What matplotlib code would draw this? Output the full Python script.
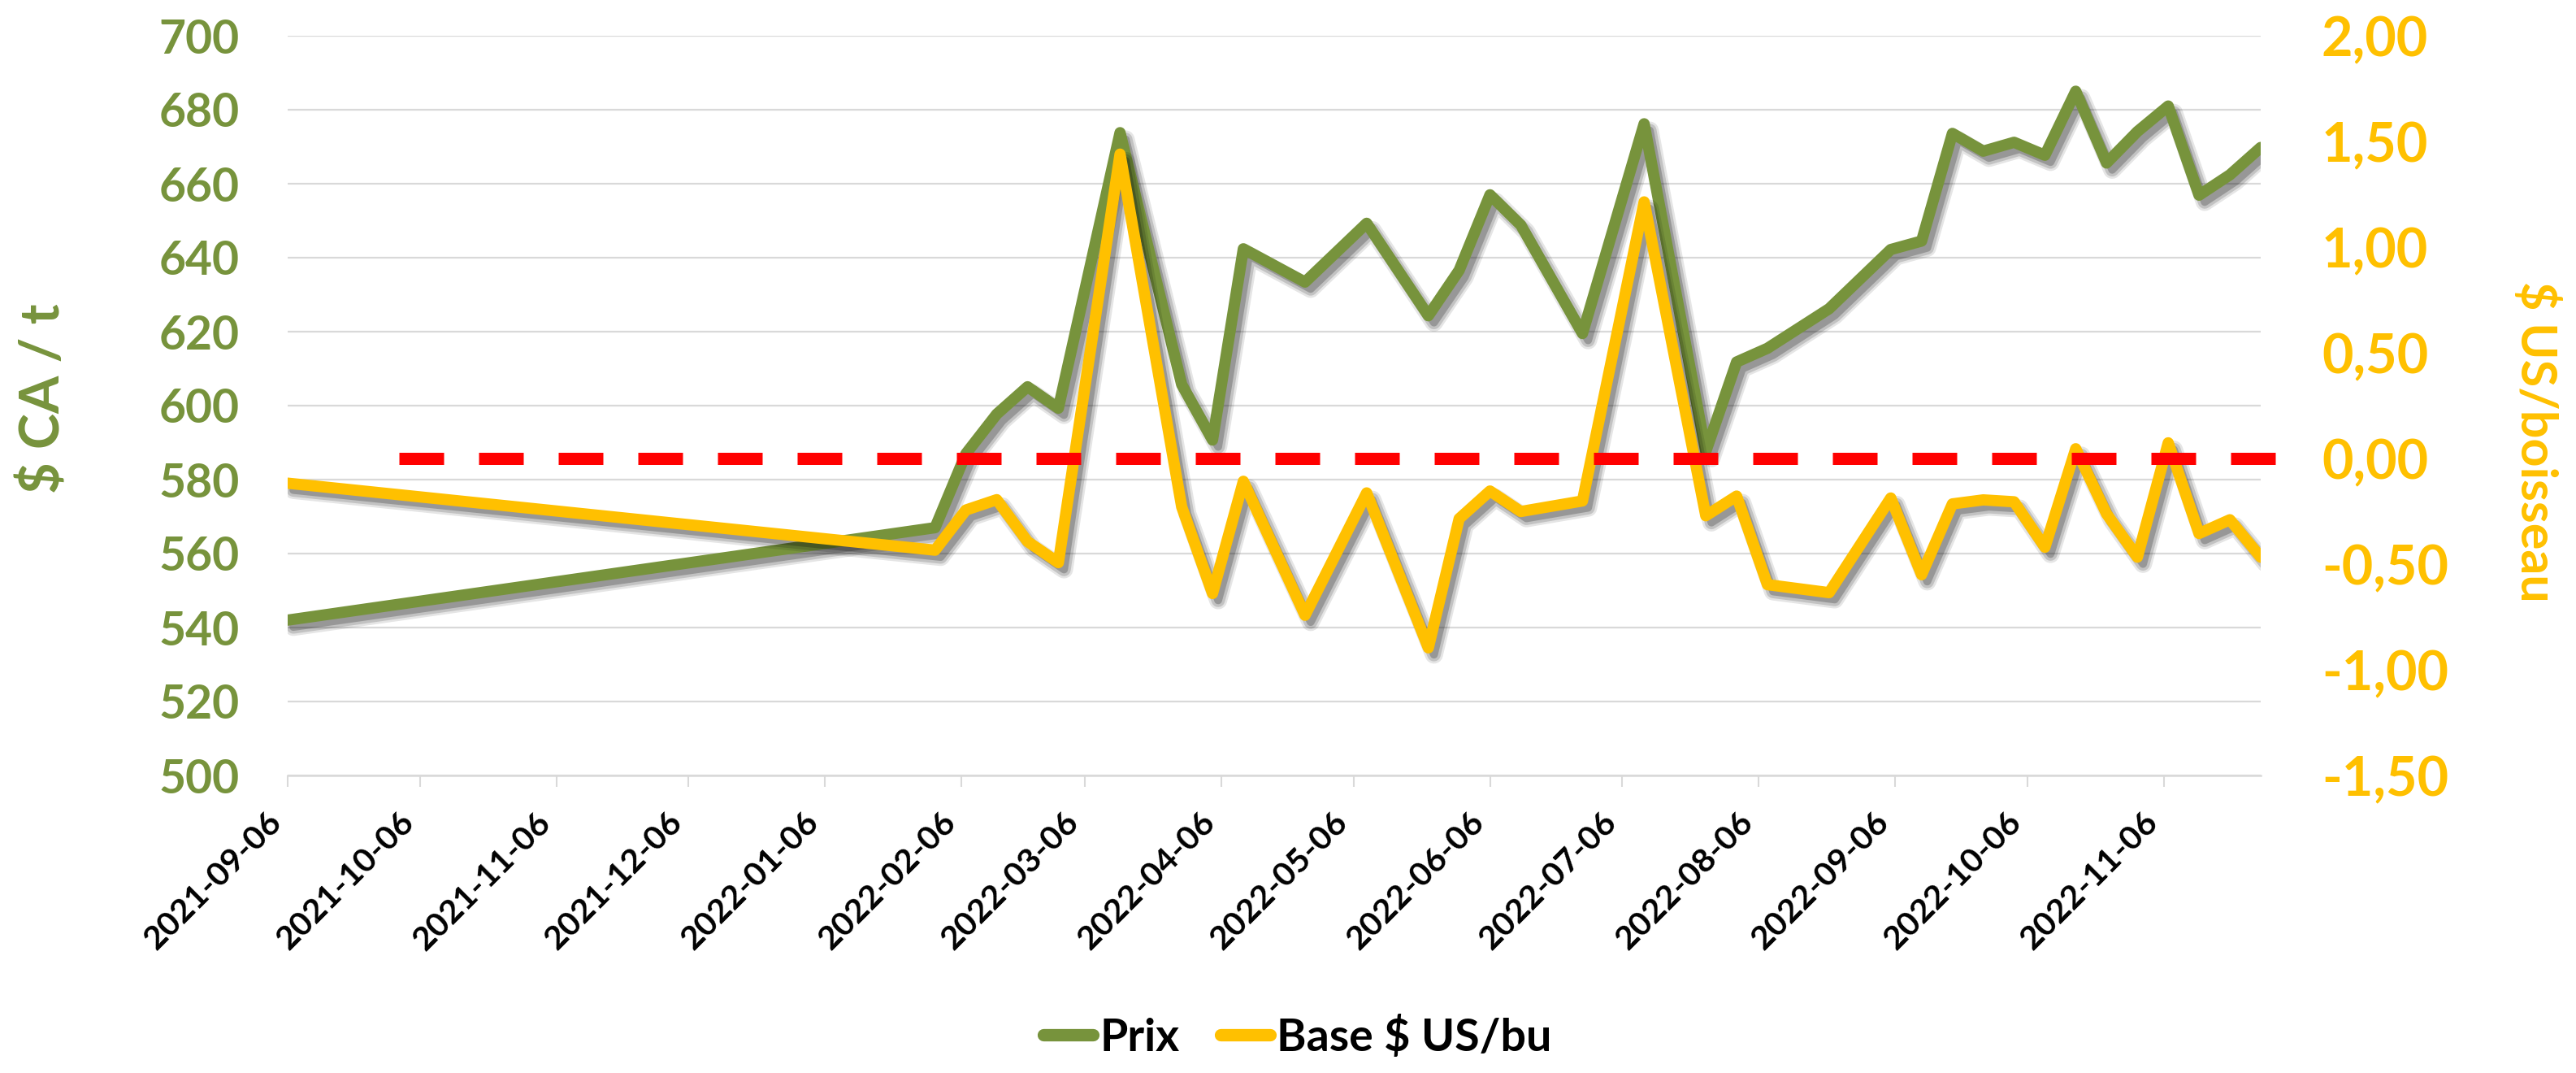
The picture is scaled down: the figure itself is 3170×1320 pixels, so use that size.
import matplotlib
matplotlib.use("Agg")
import matplotlib.pyplot as plt
import matplotlib.dates as mdates
from matplotlib import patheffects as pe
from matplotlib.ticker import FixedLocator, FuncFormatter
from matplotlib.lines import Line2D
import pandas as pd

# ---------------- data ----------------
dates = [
    "2021-09-06", "2022-01-31", "2022-02-07", "2022-02-14", "2022-02-21", "2022-02-28",
    "2022-03-14", "2022-03-28", "2022-04-04", "2022-04-11", "2022-04-25", "2022-05-09",
    "2022-05-23", "2022-05-30", "2022-06-06", "2022-06-13", "2022-06-27", "2022-07-11",
    "2022-07-25", "2022-08-01", "2022-08-08", "2022-08-22", "2022-09-05", "2022-09-12",
    "2022-09-19", "2022-09-26", "2022-10-03", "2022-10-10", "2022-10-17", "2022-10-24",
    "2022-10-31", "2022-11-07", "2022-11-14", "2022-11-21", "2022-11-28",
]
prix = [
    542.0, 567.0, 587.0, 597.7, 605.1, 599.3,
    673.8, 605.7, 590.7, 642.4, 633.4, 649.3,
    624.3, 636.6, 657.0, 648.8, 619.5, 676.2,
    587.6, 611.8, 615.5, 626.2, 642.2, 644.5,
    673.6, 668.8, 671.2, 667.7, 685.0, 665.6,
    674.1, 681.0, 656.9, 662.4, 669.8,
]
base = [
    -0.117, -0.434, -0.244, -0.195, -0.393, -0.493,
    1.440, -0.229, -0.639, -0.108, -0.742, -0.163,
    -0.896, -0.285, -0.154, -0.251, -0.201, 1.214,
    -0.271, -0.178, -0.597, -0.635, -0.187, -0.550,
    -0.215, -0.196, -0.205, -0.420, 0.046, -0.262,
    -0.467, 0.074, -0.355, -0.290, -0.467,
]
left_ticks = [500, 520, 540, 560, 580, 600, 620, 640, 660, 680, 700]
right_ticks = [-1.5, -1.0, -0.5, 0.0, 0.5, 1.0, 1.5, 2.0]
zero_ref = 0.0
series_names = ["Prix", "Base $ US/bu"]
left_title = "$ CA / t"
right_title = "$ US/boisseau"

# ---------------- style ----------------
GREEN = "#77933C"
YELLOW = "#FFC000"
RED = "#FF0000"
GRID = "#D9D9D9"

plt.rcParams["font.family"] = ["Lato", "DejaVu Sans"]
plt.rcParams["font.weight"] = "bold"

W, H = 3170, 1320
fig = plt.figure(figsize=(W / 100, H / 100), dpi=100)
L, R, T, B = 354, 2782, 44, 954
ax = fig.add_axes([L / W, 1 - B / H, (R - L) / W, (B - T) / H])
ax2 = ax.twinx()

d = pd.to_datetime(dates)


def shadow(lw):
    return [
        pe.SimpleLineShadow(offset=(5, -6), shadow_color="#000000", alpha=0.10, linewidth=lw + 6),
        pe.SimpleLineShadow(offset=(5, -6), shadow_color="#000000", alpha=0.15, linewidth=lw + 2),
        pe.SimpleLineShadow(offset=(5, -6), shadow_color="#000000", alpha=0.22, linewidth=lw - 3),
        pe.Normal(),
    ]


LW = 10
ax.plot(d, prix, color=GREEN, lw=LW, solid_joinstyle="round", solid_capstyle="round",
        path_effects=shadow(LW), zorder=3)
ax2.plot(d, base, color=YELLOW, lw=LW, solid_joinstyle="round", solid_capstyle="round",
         path_effects=shadow(LW), zorder=3)

# red dashed reference line at 0 on the secondary axis
ax2.axhline(zero_ref, xmin=(491 - L) / (R - L), xmax=(2800 - L) / (R - L), color=RED,
            lw=10.8, linestyle=(0, (55 / 15, 43 / 15)), dash_capstyle="butt",
            clip_on=False, zorder=6)

# axes limits / ticks
ax.set_xlim(d.min(), d.max())
ax.set_ylim(left_ticks[0], left_ticks[-1])
ax2.set_ylim(right_ticks[0], right_ticks[-1])
ax.yaxis.set_major_locator(FixedLocator(left_ticks))
ax2.yaxis.set_major_locator(FixedLocator(right_ticks))
ax2.yaxis.set_major_formatter(FuncFormatter(lambda v, p: f"{v:.2f}".replace(".", ",")))
ax.xaxis.set_major_locator(mdates.MonthLocator(bymonthday=6))
ax.xaxis.set_major_formatter(mdates.DateFormatter("%Y-%m-%d"))

ax.yaxis.grid(True, color=GRID, lw=1.6)
ax.set_axisbelow(True)
for s in ["left", "right", "top"]:
    ax.spines[s].set_visible(False)
for s in ["left", "right", "top", "bottom"]:
    ax2.spines[s].set_visible(False)
ax.spines["bottom"].set_color(GRID)
ax.spines["bottom"].set_linewidth(1.8)

ax.tick_params(axis="y", length=0, pad=43, labelsize=41, labelcolor=GREEN)
ax2.tick_params(axis="y", length=0, pad=54, labelsize=48, labelcolor=YELLOW)
ax.tick_params(axis="x", length=10, width=1.5, color=GRID, pad=18, labelsize=29.5,
               labelcolor="black")
for lbl in ax.get_xticklabels():
    lbl.set_rotation(45)
    lbl.set_ha("right")
    lbl.set_va("top")

# axis titles
fig.text(55 / W, 1 - 490 / H, left_title, rotation=90, color=GREEN, fontsize=48,
         fontweight="bold", ha="center", va="center")
fig.text(3122 / W, 1 - 543 / H, right_title, rotation=270, color=YELLOW, fontsize=44,
         fontweight="bold", ha="center", va="center")

# legend
handles = [
    Line2D([], [], color=GREEN, lw=11, solid_capstyle="round"),
    Line2D([], [], color=YELLOW, lw=11, solid_capstyle="round"),
]
fig.legend(handles, series_names, loc="center", bbox_to_anchor=(0.5037, 0.034), ncol=2,
           frameon=False, handlelength=1.1, handletextpad=0.15,
           columnspacing=0.9, prop={"weight": "bold", "size": 40})

fig.savefig("out.png", dpi=100, facecolor="white")
